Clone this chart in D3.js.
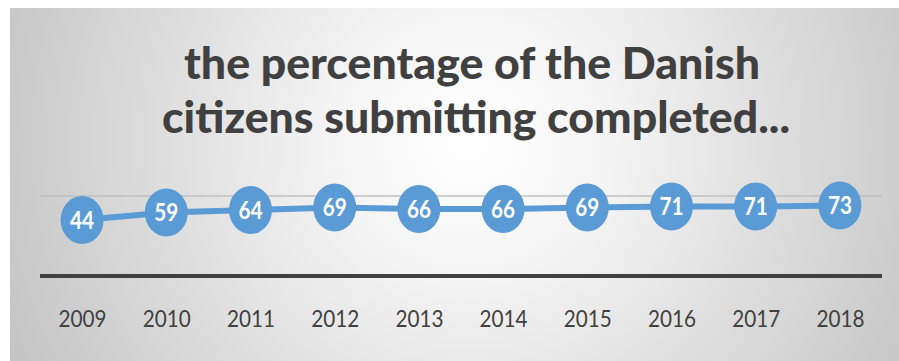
<!DOCTYPE html>
<html>
<head>
<meta charset="utf-8">
<script src="https://cdn.jsdelivr.net/npm/d3@7/dist/d3.min.js"></script>
<style>
  html, body { margin: 0; padding: 0; background: #ffffff; }
  svg { display: block; }
</style>
</head>
<body>
<div id="chart"></div>
<script>
// Values
const years = ['2009', '2010', '2011', '2012', '2013', '2014', '2015', '2016', '2017', '2018'];
const percentages = [44, 59, 64, 69, 66, 66, 69, 71, 71, 73];
const titleLines = ['the percentage of the Danish', 'citizens submitting completed...'];

(function () {
  const W = 899;
  const H = 361;
  const frame = { x: 10, y: 8 };
  const plot = { left: 40, right: 882, top: 196, bottom: 276 };

  const svg = d3.select('#chart').append('svg')
    .attr('width', W)
    .attr('height', H)
    .attr('viewBox', `0 0 ${W} ${H}`);

  const defs = svg.append('defs');
  const grad = defs.append('radialGradient')
    .attr('id', 'bg')
    .attr('gradientUnits', 'userSpaceOnUse')
    .attr('cx', 470).attr('cy', 140)
    .attr('r', 560);
  grad.append('stop').attr('offset', '0%').attr('stop-color', '#ffffff');
  grad.append('stop').attr('offset', '25%').attr('stop-color', '#f4f4f4');
  grad.append('stop').attr('offset', '100%').attr('stop-color', '#bdbdbd');

  svg.append('rect')
    .attr('x', frame.x)
    .attr('y', frame.y)
    .attr('width', W - frame.x)
    .attr('height', H - frame.y)
    .attr('fill', 'url(#bg)');

  // title, two lines like the original
  const titleSpecs = [
    { text: titleLines[0], cx: 472, y: 79, len: 576 },
    { text: titleLines[1], cx: 476, y: 133, len: 628 },
  ];
  svg.append('g').attr('class', 'title')
    .selectAll('text')
    .data(titleSpecs)
    .join('text')
    .attr('x', d => d.cx)
    .attr('y', d => d.y)
    .attr('text-anchor', 'middle')
    .attr('font-family', 'Lato, "Open Sans", sans-serif')
    .attr('font-weight', 900)
    .attr('font-size', 43)
    .attr('fill', '#404040')
    .attr('textLength', d => d.len)
    .attr('lengthAdjust', 'spacingAndGlyphs')
    .text(d => d.text);

  const x = d3.scalePoint()
    .domain(years)
    .range([plot.left, plot.right])
    .padding(0.5);

  const y = d3.scaleLinear()
    .domain([0, 100])
    .range([242, 192]);

  // gridline
  svg.append('line')
    .attr('x1', plot.left).attr('x2', plot.right)
    .attr('y1', plot.top).attr('y2', plot.top)
    .attr('stroke', '#bfbfbf')
    .attr('stroke-width', 1.5);

  // category axis
  const xAxis = svg.append('g')
    .attr('transform', `translate(0,${plot.bottom})`)
    .call(d3.axisBottom(x).tickSize(0).tickPadding(34));
  xAxis.select('.domain')
    .attr('stroke', '#404040')
    .attr('stroke-width', 4)
    .attr('d', `M${plot.left},0H${plot.right}`);
  xAxis.selectAll('text')
    .attr('font-family', 'Lato, "Open Sans", sans-serif')
    .attr('font-size', 24)
    .attr('fill', '#404040')
    .attr('textLength', 48)
    .attr('lengthAdjust', 'spacingAndGlyphs');

  const data = years.map((yr, i) => ({ year: yr, value: percentages[i] }));

  const line = d3.line()
    .x(d => x(d.year))
    .y(d => y(d.value));

  svg.append('path')
    .datum(data)
    .attr('d', line)
    .attr('fill', 'none')
    .attr('stroke', '#5b9bd5')
    .attr('stroke-width', 6)
    .attr('stroke-linejoin', 'round');

  const pt = svg.selectAll('.pt')
    .data(data)
    .join('g')
    .attr('class', 'pt')
    .attr('transform', d => `translate(${x(d.year)},${y(d.value)})`);

  pt.append('ellipse')
    .attr('rx', 21.5)
    .attr('ry', 24)
    .attr('fill', '#5b9bd5');

  pt.append('text')
    .attr('text-anchor', 'middle')
    .attr('dy', '0.36em')
    .attr('font-family', 'Lato, "Open Sans", sans-serif')
    .attr('font-weight', 700)
    .attr('font-size', 24)
    .attr('fill', '#ffffff')
    .attr('textLength', 24)
    .attr('lengthAdjust', 'spacingAndGlyphs')
    .text(d => d.value);
})();
</script>
</body>
</html>
